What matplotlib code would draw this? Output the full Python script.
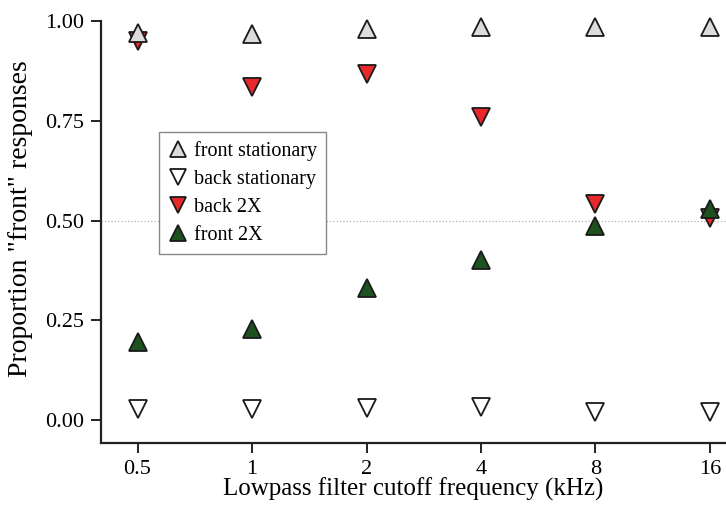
import matplotlib
matplotlib.use("Agg")
import matplotlib.pyplot as plt
import numpy as np

plt.rcParams['font.family'] = ['Liberation Serif', 'DejaVu Serif']

# cutoff frequencies (kHz) and proportion of "front" responses
freqs = [0.5, 1, 2, 4, 8, 16]
freq_labels = ['0.5', '1', '2', '4', '8', '16']
front_stationary = [0.971, 0.969, 0.980, 0.986, 0.986, 0.986]
back_stationary = [0.028, 0.028, 0.031, 0.033, 0.020, 0.020]
back_2x = [0.950, 0.835, 0.867, 0.760, 0.541, 0.507]
front_2x = [0.195, 0.228, 0.331, 0.401, 0.486, 0.530]

x = np.log2(freqs)

fig = plt.figure(figsize=(7.26, 5.05), dpi=100)
ax = fig.add_axes([0.139, 0.1228, 0.861, 0.8352])

ax.axhline(0.5, color='#b0b0b0', lw=0.9, ls=':', zorder=0)

ms = 13.5
ax.plot(x, front_stationary, '^', ms=ms, mfc='#dcdcdc', mec='#1a1a1a', mew=1.3,
        ls='none', clip_on=False, label='front stationary', zorder=3)
ax.plot(x, back_stationary, 'v', ms=ms, mfc='white', mec='#1a1a1a', mew=1.3,
        ls='none', clip_on=False, label='back stationary', zorder=3)
ax.plot(x, back_2x, 'v', ms=ms, mfc='#e8282a', mec='#1a1a1a', mew=1.3,
        ls='none', clip_on=False, label='back 2X', zorder=2)
ax.plot(x, front_2x, '^', ms=ms, mfc='#1d5220', mec='#1a1a1a', mew=1.3,
        ls='none', clip_on=False, label='front 2X', zorder=4)

ax.set_xlim(-1.32, 4.14)
ax.set_ylim(-0.058, 1.0)
ax.set_xticks(x)
ax.set_xticklabels(freq_labels)
ax.set_yticks([0, 0.25, 0.5, 0.75, 1.0])
ax.set_yticklabels(['0.00', '0.25', '0.50', '0.75', '1.00'])

for side in ['top', 'right']:
    ax.spines[side].set_visible(False)
for side in ['left', 'bottom']:
    ax.spines[side].set_linewidth(1.6)
    ax.spines[side].set_color('#222222')
ax.tick_params(direction='out', length=7, width=1.4, color='#222222',
               labelsize=16, pad=5)

ax.set_xlabel('Lowpass filter cutoff frequency (kHz)', fontsize=18, labelpad=-1)
ax.set_ylabel('Proportion "front" responses', fontsize=20)
ax.yaxis.set_label_coords(-0.108, 0.533)

leg = ax.legend(loc='upper left', bbox_to_anchor=(0.093, 0.737), borderaxespad=0,
                fancybox=False, edgecolor='#888888', fontsize=14.5, markerscale=0.85,
                handlelength=1.0, handletextpad=0.3, labelspacing=0.44,
                borderpad=0.45, framealpha=1)
leg.get_frame().set_linewidth(1.0)

fig.savefig('out.png', dpi=100)
